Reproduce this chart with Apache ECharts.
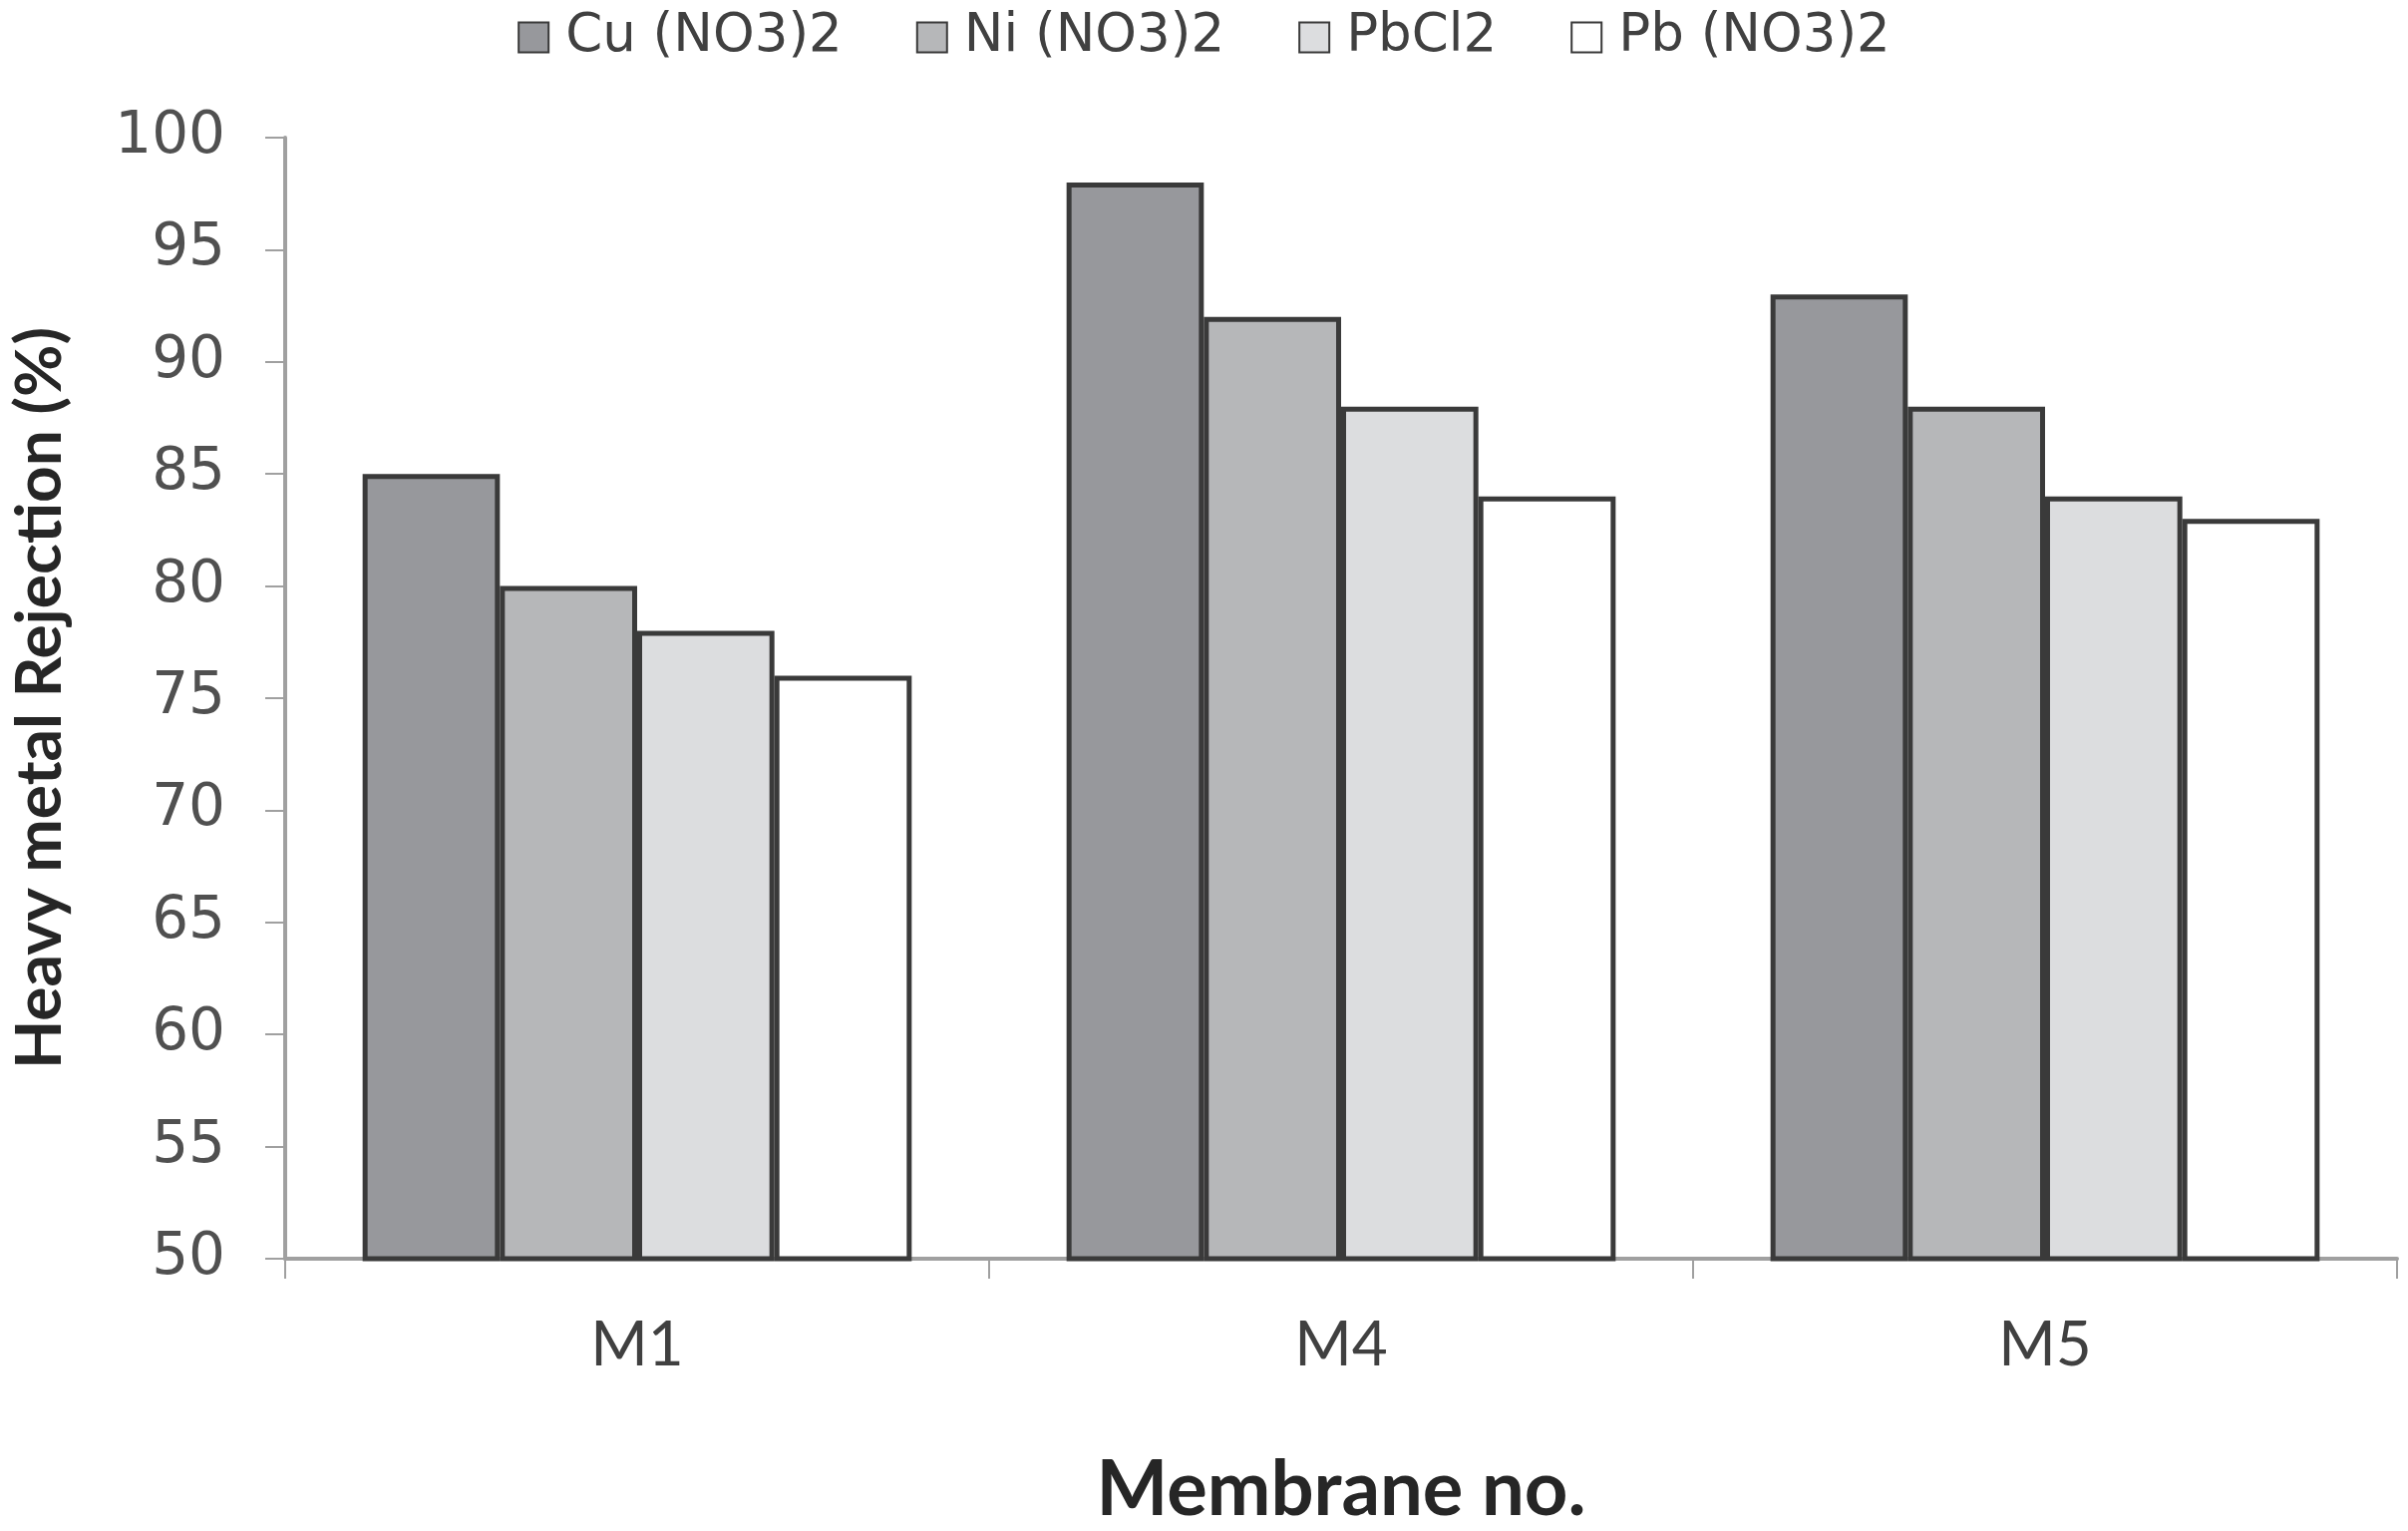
<!DOCTYPE html>
<html>
<head>
<meta charset="utf-8">
<script src="https://cdn.jsdelivr.net/npm/echarts@6/dist/echarts.min.js"></script>
<style>html,body{margin:0;padding:0;background:#fff;}#c{width:2415px;height:1535px;}</style>
</head>
<body>
<div id="c"></div>
<script>
const categories = ['M1', 'M4', 'M5'];
const seriesNames = ['Cu (NO3)2', 'Ni (NO3)2', 'PbCl2', 'Pb (NO3)2'];
const cuValues = [85, 98, 93];
const niValues = [80, 92, 88];
const pbcl2Values = [78, 88, 84];
const pbno3Values = [76, 84, 83];
const yTicks = { min: 50, max: 100, interval: 5 };

const colors = ['#97989c', '#b6b7b9', '#dcdddf', '#ffffff'];
const allValues = [cuValues, niValues, pbcl2Values, pbno3Values];

const chart = echarts.init(document.getElementById('c'));
chart.setOption({
  backgroundColor: '#ffffff',
  animation: false,
  legend: {
    top: 6,
    left: 'center',
    icon: 'rect',
    itemWidth: 30,
    itemHeight: 30,
    itemGap: 74,
    textStyle: { fontFamily: 'DejaVu Sans', fontSize: 53, color: '#404040', padding: [0, 0, 0, 12] },
    data: seriesNames
  },
  grid: { left: 286, right: 11, top: 138, bottom: 273, containLabel: false, outerBoundsMode: 'none' },
  xAxis: {
    type: 'category',
    data: categories,
    name: 'Membrane no.',
    nameLocation: 'middle',
    nameGap: 194,
    nameTextStyle: { fontFamily: 'Lato', fontWeight: 'bold', fontSize: 76, color: '#262626' },
    axisLine: { lineStyle: { color: '#a0a0a0', width: 4 } },
    axisTick: { show: true, alignWithLabel: false, length: 20, lineStyle: { color: '#a0a0a0', width: 2 } },
    axisLabel: { fontFamily: 'Lato', fontSize: 62, color: '#404040', margin: 56 }
  },
  yAxis: {
    type: 'value',
    min: yTicks.min,
    max: yTicks.max,
    interval: yTicks.interval,
    name: 'Heavy metal Rejection (%)',
    nameLocation: 'middle',
    nameGap: 214,
    nameRotate: 90,
    nameTextStyle: { fontFamily: 'Lato', fontWeight: 'bold', fontSize: 64, color: '#262626' },
    axisLine: { show: true, lineStyle: { color: '#a0a0a0', width: 4 } },
    axisTick: { show: true, length: 20, lineStyle: { color: '#a0a0a0', width: 2 } },
    axisLabel: { fontFamily: 'DejaVu Sans', fontSize: 58, color: '#505050', margin: 60 },
    splitLine: { show: false }
  },
  series: seriesNames.map((n, i) => ({
    name: n,
    type: 'bar',
    data: allValues[i],
    barGap: '0%',
    barCategoryGap: '22%',
    itemStyle: { color: colors[i], borderColor: '#3a3a3a', borderWidth: 5 }
  }))
});
</script>
</body>
</html>
